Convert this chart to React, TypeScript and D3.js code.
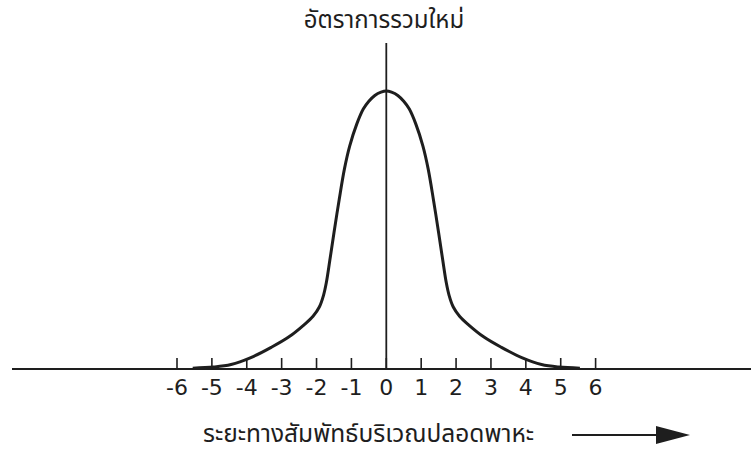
import React from "react";
import * as d3 from "d3";

// Relative distance from the centre of the region (x) and recombination rate (relative, peak = 100)
const distance = [
  -5.55, -4.95, -4.45, -3.9, -3.3, -2.8, -2.35, -2.1, -1.92, -1.8, -1.72, -1.62, -1.5, -1.35, -1.2, -1.05, -0.85, -0.66, -0.5, -0.33, -0.15,
  0,
  0.15, 0.33, 0.5, 0.66, 0.85, 1.05, 1.2, 1.35, 1.5, 1.62, 1.72, 1.8, 1.92, 2.1, 2.35, 2.8, 3.3, 3.9, 4.45, 4.95, 5.55,
];
const rate = [
  0.3, 0.7, 1.6, 4, 7.8, 11.5, 16, 19, 22.3, 26.5, 31, 39, 49, 61, 72, 80.2, 88, 93.5, 96.3, 98.4, 99.6,
  100,
  99.6, 98.4, 96.3, 93.5, 88, 80.2, 72, 61, 49, 39, 31, 26.5, 22.3, 19, 16, 11.5, 7.8, 4, 1.6, 0.7, 0.3,
];
const tickValues = [-6, -5, -4, -3, -2, -1, 0, 1, 2, 3, 4, 5, 6];

const yTitle = "อัตราการรวมใหม่";
const xTitle = "ระยะทางสัมพัทธ์บริเวณปลอดพาหะ";

const W = 751;
const H = 453;
const ink = "#1e1e1e";
const thaiFont = "Tahoma, 'Noto Sans Thai', 'Noto Sans Thai UI', 'Loma', 'Garuda', 'DejaVu Sans', sans-serif";
const numFont = "Tahoma, 'DejaVu Sans', Verdana, sans-serif";

export default function App() {
  const x = d3.scaleLinear().domain([-6, 6]).range([177, 595.6]);
  const y = d3.scaleLinear().domain([0, 100]).range([369, 91]);
  const axisY = y(0);
  const x0 = x(0);

  const points: [number, number][] = distance.map((d, i) => [d, rate[i]]);
  const line = d3
    .line<[number, number]>()
    .x((d) => x(d[0]))
    .y((d) => y(d[1]))
    .curve(d3.curveCatmullRom.alpha(0.5));

  const arrowY = 435;

  return (
    <svg
      width={W}
      height={H}
      viewBox={`0 0 ${W} ${H}`}
      style={{ position: "absolute", left: 0, top: 0, background: "#fff" }}
    >
      <rect width={W} height={H} fill="#fff" />
      {/* horizontal axis */}
      <line x1={12} x2={W} y1={axisY} y2={axisY} stroke={ink} strokeWidth={2} />
      {/* vertical axis */}
      <line x1={x0} x2={x0} y1={43} y2={axisY} stroke={ink} strokeWidth={1.8} />
      {/* ticks and labels */}
      {tickValues.map((t) => (
        <g key={t}>
          <line x1={x(t)} x2={x(t)} y1={axisY - 11} y2={axisY} stroke={ink} strokeWidth={1.6} />
          <text
            x={x(t)}
            y={395}
            textAnchor="middle"
            fontFamily={numFont}
            fontSize={22}
            fill={ink}
          >
            {t}
          </text>
        </g>
      ))}
      {/* recombination curve */}
      <path d={line(points) ?? ""} fill="none" stroke={ink} strokeWidth={3} strokeLinejoin="round" />
      {/* titles */}
      <text x={384} y={28} textAnchor="middle" fontFamily={thaiFont} fontSize={24} fill={ink}>
        {yTitle}
      </text>
      <text x={203} y={442} textAnchor="start" fontFamily={thaiFont} fontSize={24.5} fill={ink}>
        {xTitle}
      </text>
      {/* direction arrow */}
      <line x1={572} x2={662} y1={arrowY} y2={arrowY} stroke={ink} strokeWidth={2} />
      <path d={`M656,${arrowY - 9} L690,${arrowY} L656,${arrowY + 9} Z`} fill={ink} />
    </svg>
  );
}
